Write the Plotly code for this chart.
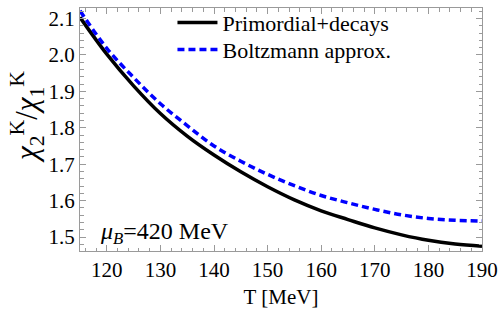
import plotly.graph_objects as go

T = [115, 120, 125, 130, 135, 140, 145, 150, 155, 160, 165, 170, 175, 180, 185, 190]
primordial_decays = [2.103, 2.002, 1.915, 1.839, 1.777, 1.725, 1.679, 1.638, 1.602, 1.572,
                     1.548, 1.525, 1.506, 1.491, 1.481, 1.475]
boltzmann = [2.121, 2.018, 1.938, 1.866, 1.806, 1.750, 1.708, 1.672, 1.641, 1.614,
             1.594, 1.576, 1.561, 1.551, 1.546, 1.544]

x_ticks = [120, 130, 140, 150, 160, 170, 180, 190]
y_ticks = [1.5, 1.6, 1.7, 1.8, 1.9, 2.0, 2.1]

FONT = "Liberation Serif, Times New Roman, serif"

fig = go.Figure()
fig.add_trace(go.Scatter(x=T, y=primordial_decays, mode="lines", name="Primordial+decays",
                         line=dict(color="black", width=3.5, shape="spline"), legend="legend"))
fig.add_trace(go.Scatter(x=T, y=boltzmann, mode="lines", name="Boltzmann approx.",
                         line=dict(color="#0000FF", width=3.5, dash="7px,4px", shape="spline"),
                         legend="legend2"))

axis_common = dict(
    showgrid=False, zeroline=False, showline=True, linecolor="#9a9a9a", linewidth=1,
    mirror="allticks", ticks="inside", ticklen=6, tickcolor="#9a9a9a", tickwidth=1,
    tickfont=dict(family=FONT, size=21, color="black"),
)

fig.update_xaxes(range=[115, 190], tickvals=x_ticks, ticktext=[str(v) for v in x_ticks],
                 minor=dict(dtick=2, ticks="inside", ticklen=3.5, tickcolor="#9a9a9a", showgrid=False),
                 title=dict(text="T [MeV]", font=dict(family=FONT, size=21, color="black"), standoff=8),
                 **axis_common)
fig.update_yaxes(range=[1.4617, 2.1287], tickvals=y_ticks, ticktext=[f"{v:.1f}" for v in y_ticks],
                 minor=dict(dtick=0.02, tick0=1.5, ticks="inside", ticklen=3.5, tickcolor="#9a9a9a", showgrid=False),
                 **axis_common)

fig.add_annotation(text="<i>χ</i><sub>2</sub><sup>K</sup>/<i>χ</i><sub>1</sub><sup>K</sup>",
                   xref="paper", yref="paper", x=-0.19, y=0.55, textangle=-90,
                   showarrow=False, font=dict(family=FONT, size=31, color="black"))
fig.add_annotation(text="<i>μ</i><sub><i>B</i></sub>=420 MeV",
                   xref="paper", yref="paper", x=0.045, y=0.075, xanchor="left", yanchor="middle",
                   showarrow=False, font=dict(family=FONT, size=24, color="black"))

leg_common = dict(xanchor="left", yanchor="middle", bgcolor="rgba(0,0,0,0)",
                  font=dict(family=FONT, size=22, color="black"), itemwidth=40)

fig.update_layout(
    width=500, height=314,
    margin=dict(l=80, r=16, t=2, b=63),
    paper_bgcolor="white", plot_bgcolor="white",
    showlegend=True,
    legend=dict(x=0.23, y=0.94, **leg_common),
    legend2=dict(x=0.23, y=0.828, **leg_common),
)

fig.write_html("out.html", config={"displayModeBar": False},
               post_script="document.body.style.margin='0';document.body.style.overflow='hidden';")
